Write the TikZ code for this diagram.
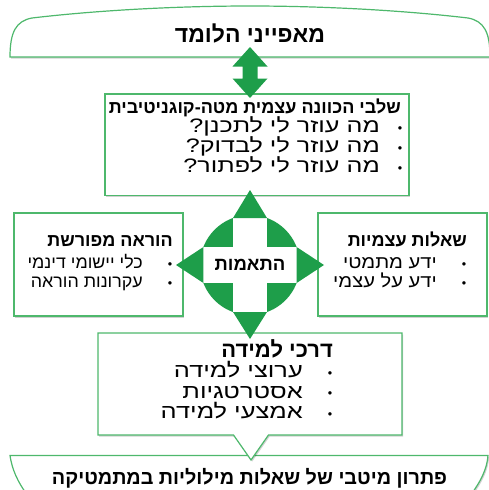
\documentclass[tikz,border=0pt]{standalone}
\usepackage{fontspec}
\setmainfont{Liberation Sans}
\newfontfamily\heb[Script=Hebrew]{Liberation Sans}
\TeXXeTstate=1
\usetikzlibrary{shadows}
\definecolor{agreen}{RGB}{30,158,74}
\definecolor{bgreen}{RGB}{78,184,108}
\newcommand{\hR}[1]{\beginR #1\endR}
\begin{document}
\begin{tikzpicture}[x=1pt,y=-1pt,
  shd/.style={drop shadow={shadow xshift=1.2pt, shadow yshift=-1.5pt, opacity=0.18, fill=black}},
  shapeline/.style={draw=bgreen, line width=1.2pt, fill=white, shd},
  box/.style={shapeline, rectangle, inner sep=0pt},
  big/.style={font=\heb\bfseries\fontsize{#1}{#1}\selectfont, inner sep=0pt, anchor=base},
  ttl/.style={font=\heb\bfseries\fontsize{#1}{#1}\selectfont, inner sep=0pt, anchor=base east},
  itm/.style 2 args={font=\heb\fontsize{#1}{#1}\selectfont\addfontfeature{FakeStretch=#2}, inner sep=0pt, anchor=base east},
  bul/.style={font=\heb\fontsize{12.5}{14}\selectfont, inner sep=0pt, anchor=base},
]
\useasboundingbox (0,0) rectangle (489,490);
\clip (0,0) rectangle (489,490);

% top banner
\draw[shapeline] (10,57) .. controls (10,32) and (16,21) .. (32,18)
  .. controls (100,10) and (180,6) .. (250,6)
  .. controls (320,6) and (400,10) .. (468,18)
  .. controls (484,21) and (490,32) .. (490,57) -- cycle;
\coordinate (topbase) at (250,57);
\node[big=23] (toptxt) at (250,42) {\hR{מאפייני הלומד}};

% bottom banner
\draw[shapeline] (10,455.5) -- (488,455.5) .. controls (487,469) and (481,481) .. (470,496)
  -- (28,496) .. controls (17,481) and (12,469) .. (10,455.5) -- cycle;
\coordinate (botbase) at (250,455.5);
\node[big=19.8] (bottxt) at (249.5,484) {\hR{פתרון מיטבי של שאלות מילוליות במתמטיקה}};

% boxes
\node[box, minimum width=304pt, minimum height=101.5pt] (b1) at (257,144.75) {};
\node[box, minimum width=169pt, minimum height=103pt] (bl) at (98.5,264.5) {};
\node[box, minimum width=169pt, minimum height=103pt] (br) at (402.5,264.5) {};
\draw[shapeline] (98,333) -- (402,333) -- (402,435) -- (268.5,435) -- (251,460)
  -- (233.5,435) -- (98,435) -- cycle;
\coordinate (b4) at (250,384);

% double arrow between banner and box 1
\fill[agreen] (250,47) -- (267.5,66.5) -- (257.5,66.5) -- (257.5,78.5) -- (267.5,78.5)
  -- (250,98) -- (232.5,78.5) -- (242.5,78.5) -- (242.5,66.5) -- (232.5,66.5) -- cycle;

% centre shape
\coordinate (c) at (250,265);
\fill[agreen] (c) circle (50);
\begin{scope}
  \clip (c) circle (50);
  \fill[white] (233,205) rectangle (267,325);
  \fill[white] (190,247) rectangle (310,283);
\end{scope}
\fill[agreen] (233,218) -- (250,190) -- (267,218) -- cycle;
\fill[agreen] (233,312) -- (250,339) -- (267,312) -- cycle;
\fill[agreen] (203.4,247) -- (176,265) -- (203.4,283) -- cycle;
\fill[agreen] (296.6,247) -- (324,265) -- (296.6,283) -- cycle;
\node[big=18.5] (ctxt) at (250,270) {\hR{התאמות}};

% box 1 text
\node[ttl=18] (t1) at (401,113.5) {\hR{שלבי הכוונה עצמית מטה-קוגניטיבית}};
\node[bul] (b1u1) at (400,132) {•};
\node[itm={19.5}{1.29}] (b1i1) at (380,132.5) {\hR{מה עוזר לי לתכנן?}};
\node[bul] (b1u2) at (400,152) {•};
\node[itm={19.5}{1.29}] (b1i2) at (380,152.5) {\hR{מה עוזר לי לבדוק?}};
\node[bul] (b1u3) at (400,172) {•};
\node[itm={19.5}{1.29}] (b1i3) at (380,172.5) {\hR{מה עוזר לי לפתור?}};

% left box text
\node[ttl=18] (tl) at (173,246.5) {\hR{הוראה מפורשת}};
\node[bul] (blu1) at (170,268) {•};
\node[itm={17.5}{1.02}] (bli1) at (143,268) {\hR{כלי יישומי דינמי}};
\node[bul] (blu2) at (170,287.5) {•};
\node[itm={17.5}{1.02}] (bli2) at (143,287.5) {\hR{עקרונות הוראה}};

% right box text
\node[ttl=18] (tr) at (467,246.5) {\hR{שאלות עצמיות}};
\node[bul] (bru1) at (464,268) {•};
\node[itm={18}{1.12}] (bri1) at (437,268) {\hR{ידע מתמטי}};
\node[bul] (bru2) at (464,287.5) {•};
\node[itm={18}{1.12}] (bri2) at (437,287.5) {\hR{ידע על עצמי}};

% bottom box text
\node[ttl=22] (t4) at (333,357) {\hR{דרכי למידה}};
\node[bul] (b4u1) at (330,377) {•};
\node[itm={20}{1.27}] (b4i1) at (303,377.5) {\hR{ערוצי למידה}};
\node[bul] (b4u2) at (330,397.5) {•};
\node[itm={20}{1.27}] (b4i2) at (303,398) {\hR{אסטרטגיות}};
\node[bul] (b4u3) at (330,418) {•};
\node[itm={20}{1.27}] (b4i3) at (303,418.5) {\hR{אמצעי למידה}};
\end{tikzpicture}
\end{document}
